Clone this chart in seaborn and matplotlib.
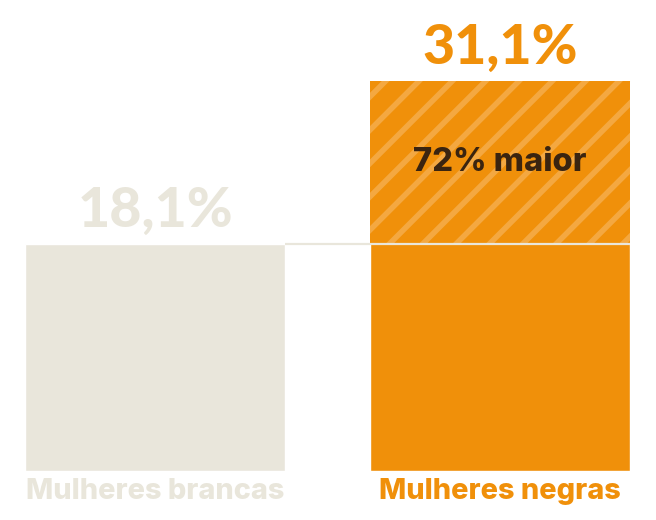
import seaborn as sns
import matplotlib.pyplot as plt

categorias = ["Mulheres brancas", "Mulheres negras"]
valores = [18.1, 31.1]
rotulos = ["18,1%", "31,1%"]
destaque = "72% maior"

bege = "#E9E6DB"
laranja = "#F0900A"
laranja_claro = "#F4A841"
marrom = "#3A2410"
cores = [bege, laranja]

sns.set_theme(style="white")
plt.rcParams['font.family'] = ['Lato', 'DejaVu Sans']
plt.rcParams['hatch.linewidth'] = 4.0

fig = plt.figure(figsize=(6.56, 5.2), dpi=100)
ax = fig.add_axes([0, 1 - 471 / 520, 1, 471 / 520])

sns.barplot(x=categorias, y=valores, hue=categorias, palette=cores,
            width=260 / 345, saturation=1, legend=False, ax=ax)

# parte hachurada da diferença
ax.bar(1, valores[1] - valores[0], bottom=valores[0], width=260 / 345,
       color=laranja, edgecolor=laranja_claro, linewidth=0, hatch='/', zorder=3)

# linha de referência
ax.hlines(valores[0], 130 / 345, 1 + 130 / 345, color=bege, lw=1.6, zorder=4)

for i, (v, r) in enumerate(zip(valores, rotulos)):
    ax.annotate(r, (i, v), xytext=(0, 12), textcoords='offset points',
                ha='center', va='baseline', fontsize=40, fontweight='black',
                color=cores[i])

ax.text(1, (valores[0] + valores[1]) / 2, destaque, ha='center', va='center',
        fontsize=23.5, fontweight='heavy', color=marrom, zorder=5,
        family=['Inter', 'DejaVu Sans'])

ax.set_xlim(-155 / 345, 1 + 156 / 345)
ax.set_ylim(0, 471 / (227 / valores[0]))
ax.set_yticks([])
ax.tick_params(axis='x', length=0, pad=5)
for lbl, c in zip(ax.get_xticklabels(), cores):
    lbl.set_color(c)
    lbl.set_fontsize(20.8)
    lbl.set_fontweight('heavy')
    lbl.set_family(['Inter', 'DejaVu Sans'])
ax.set_xlabel('')
ax.set_ylabel('')
sns.despine(left=True, bottom=True)

fig.savefig("out.png", dpi=100)
